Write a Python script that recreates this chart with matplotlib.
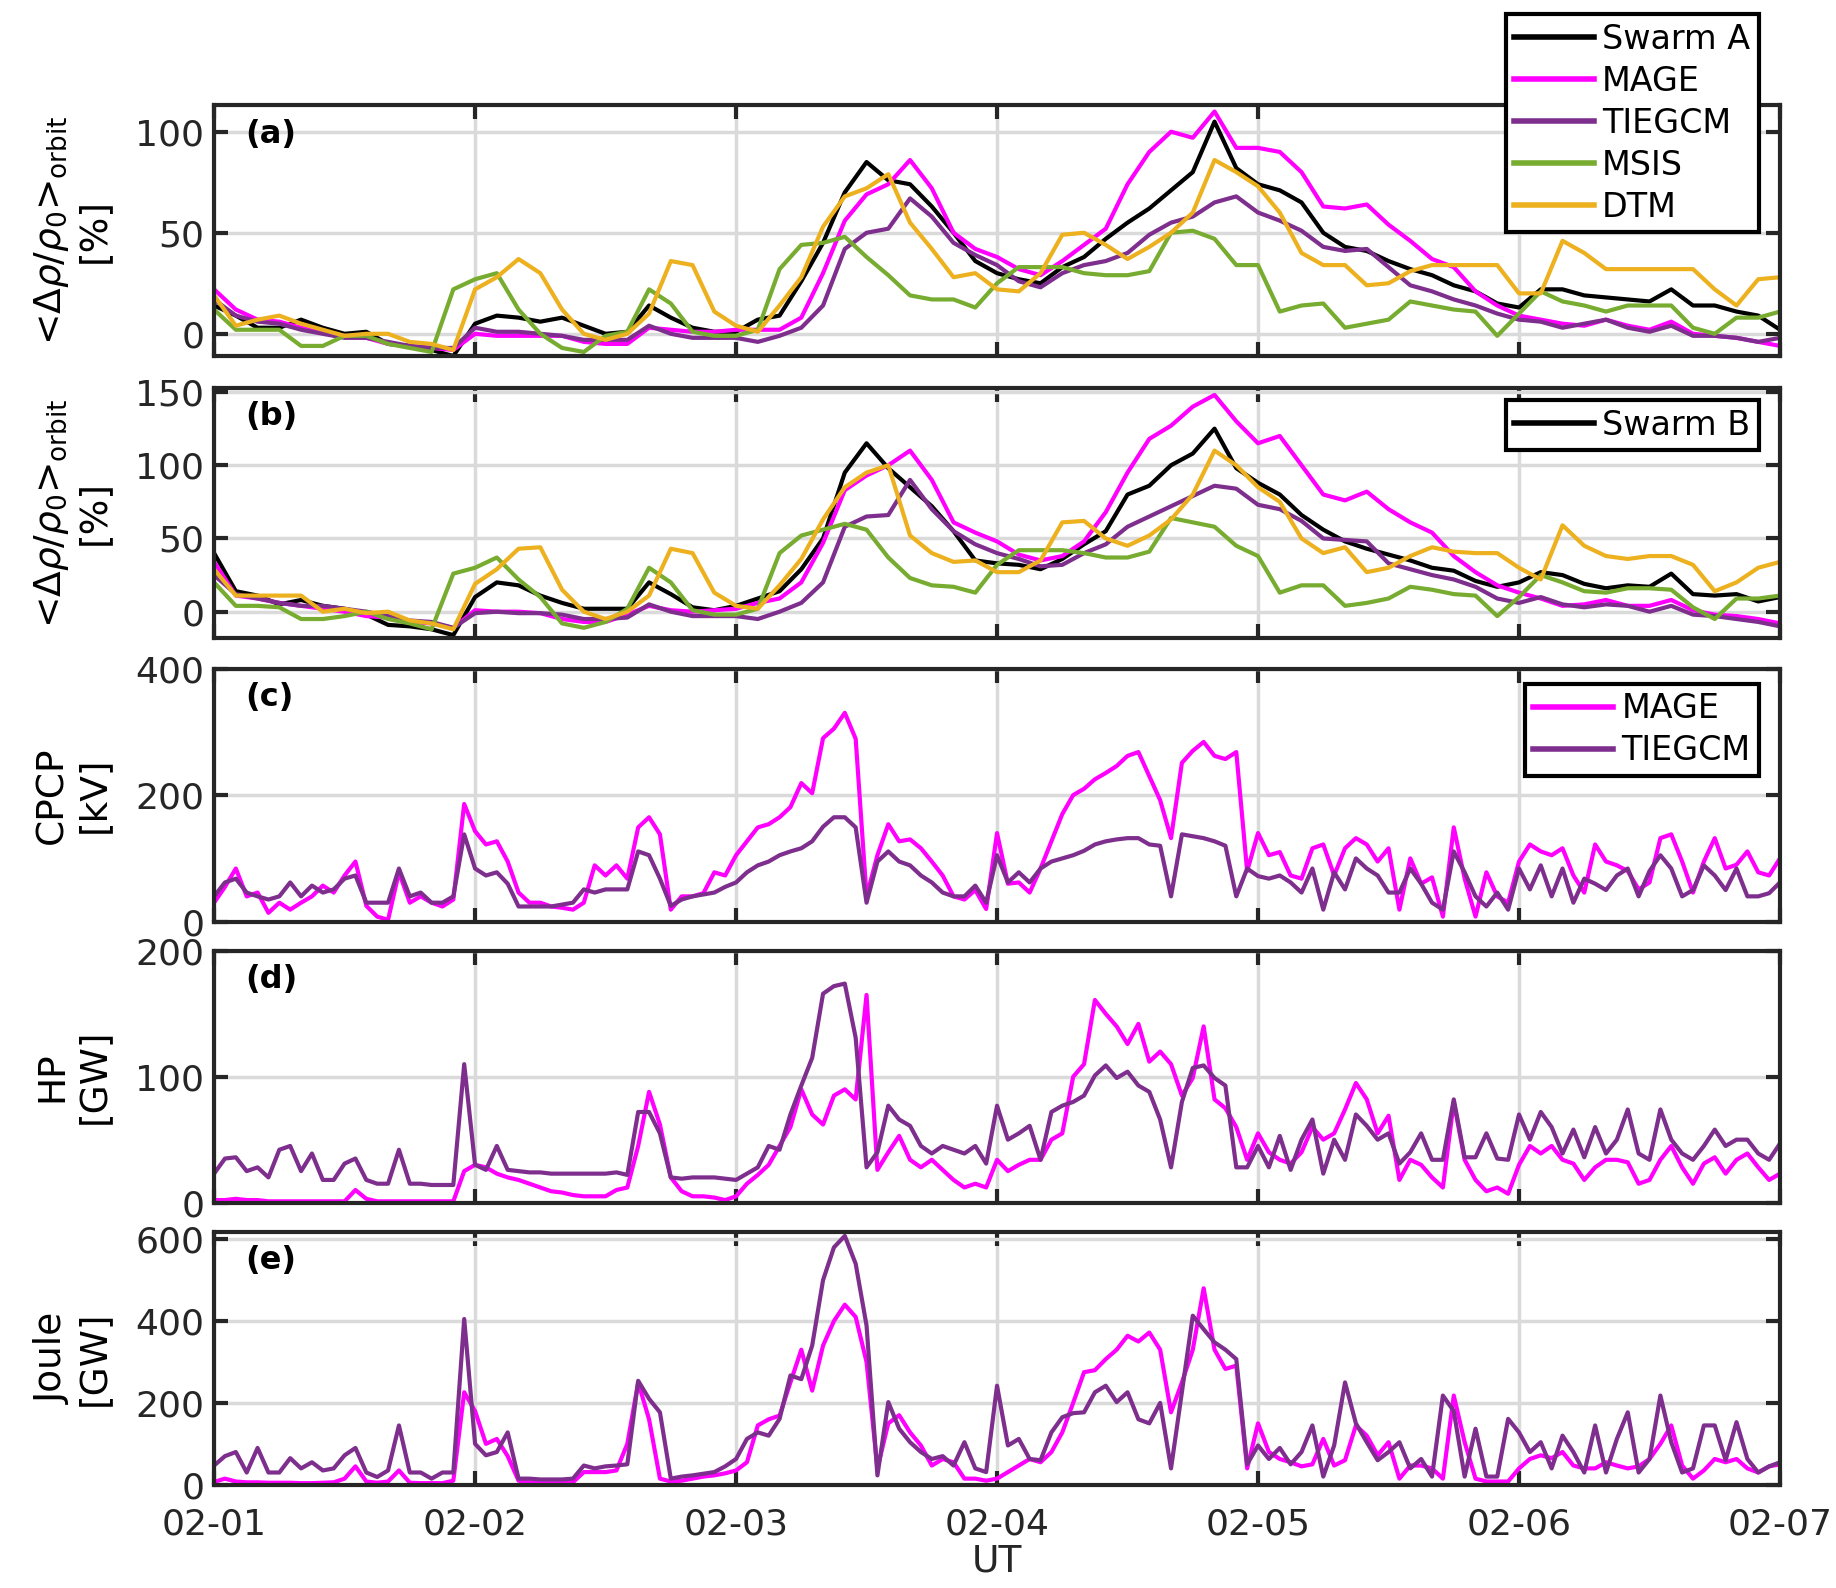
import numpy as np
import matplotlib
matplotlib.use("Agg")
import matplotlib.pyplot as plt

plt.rcParams['font.family'] = 'DejaVu Sans'
plt.rcParams['mathtext.fontset'] = 'dejavusans'

day_labels = ['02-01', '02-02', '02-03', '02-04', '02-05', '02-06', '02-07']

# orbit-averaged density change [%], sampled every 2 h from 02-01 00 UT
hours_orbit = np.arange(0, 145, 2)

swarm_a = [14, 9, 3, 3, 7, 3, 0, 1, -5, -6, -8, -11, 5, 9, 8, 6, 8, 4, 0, 1,
           14, 8, 3, 1, 1, 7, 9, 26, 45, 70, 85, 76, 74, 63, 50, 36, 30,
           27, 25, 33, 38, 47, 55, 62, 71, 80, 105, 82, 74, 71, 65, 50, 43, 41, 36,
           32, 29, 24, 21, 15, 13, 22, 22, 19, 18, 17, 16, 22, 14, 14, 11, 9, 2]
mage_a = [22, 12, 7, 6, 3, 1, -1, -2, -5, -6, -7, -8, 0, -1, -1, -1, -1, -4, -5, -5,
          3, 2, 1, 1, 2, 2, 2, 8, 30, 56, 69, 74, 86, 72, 50, 42, 38,
          32, 29, 36, 44, 52, 74, 90, 100, 97, 110, 92, 92, 90, 80, 63, 62, 64, 54,
          46, 37, 33, 21, 14, 9, 7, 5, 4, 7, 4, 2, 6, 0, -1, -2, -4, -6]
tiegcm_a = [17, 9, 6, 5, 2, 0, -2, -2, -4, -6, -7, -7, 3, 1, 1, 0, -1, -3, -3, -3,
            4, 0, -2, -2, -2, -4, -1, 3, 14, 42, 50, 52, 67, 58, 45, 39, 34,
            26, 23, 30, 34, 36, 40, 49, 55, 58, 65, 68, 60, 56, 51, 43, 41, 42, 33,
            24, 21, 17, 14, 10, 7, 6, 3, 5, 7, 3, 1, 4, -1, -1, -2, -4, -2]
msis_a = [12, 2, 2, 2, -6, -6, -1, -1, -5, -7, -9, 22, 27, 30, 12, 0, -7, -9, -1, 1,
          22, 15, 1, -1, -1, 2, 32, 44, 45, 48, 38, 29, 19, 17, 17, 13, 25,
          33, 33, 33, 30, 29, 29, 31, 50, 51, 47, 34, 34, 11, 14, 15, 3, 5, 7,
          16, 14, 12, 11, -1, 10, 21, 16, 14, 11, 14, 14, 14, 3, 0, 8, 8, 11]
dtm_a = [19, 4, 7, 9, 5, 2, -1, 0, 0, -4, -5, -8, 22, 28, 37, 30, 12, 0, -3, 0,
         10, 36, 34, 11, 4, 1, 14, 28, 53, 68, 72, 79, 55, 42, 28, 30, 22,
         21, 30, 49, 50, 44, 37, 43, 50, 60, 86, 80, 73, 60, 40, 34, 34, 24, 25,
         31, 34, 34, 34, 34, 20, 20, 46, 40, 32, 32, 32, 32, 32, 22, 14, 27, 28]

swarm_b = [40, 14, 11, 5, 8, 4, 2, -2, -9, -10, -12, -16, 10, 20, 18, 11, 6, 2, 2, 2,
           20, 12, 3, 1, 4, 9, 14, 29, 50, 95, 115, 98, 85, 72, 55, 35, 33,
           32, 29, 36, 46, 55, 80, 86, 100, 108, 125, 98, 88, 80, 66, 56, 48, 43, 39,
           35, 30, 28, 21, 17, 20, 27, 25, 19, 16, 18, 17, 26, 12, 11, 12, 7, 10]
mage_b = [34, 11, 9, 6, 4, 2, 0, -3, -4, -7, -8, -11, 1, 0, 0, -1, -5, -7, -7, -2,
          4, 1, 0, 1, 2, 6, 9, 20, 47, 83, 93, 100, 110, 90, 61, 54, 48,
          39, 35, 38, 48, 68, 95, 118, 127, 140, 148, 130, 115, 120, 100, 80, 76, 82, 70,
          61, 54, 38, 27, 18, 13, 9, 4, 5, 8, 4, 4, 8, 1, -2, -3, -5, -8]
tiegcm_b = [25, 12, 9, 6, 4, 4, 2, 0, -3, -6, -7, -11, -1, 0, -1, -1, -2, -5, -5, -4,
            5, 0, -3, -3, -3, -5, 0, 6, 20, 58, 65, 66, 90, 70, 55, 46, 40,
            36, 31, 32, 40, 46, 58, 65, 72, 79, 86, 84, 73, 70, 62, 50, 49, 48, 33,
            29, 25, 22, 17, 9, 6, 10, 5, 3, 5, 4, 0, 4, -2, -3, -5, -7, -10]
msis_b = [20, 4, 4, 3, -5, -5, -3, 0, -5, -8, -12, 26, 30, 37, 22, 10, -8, -11, -7, 2,
          30, 20, 1, -2, -2, 2, 40, 52, 56, 60, 56, 37, 23, 18, 17, 13, 32,
          42, 42, 42, 40, 37, 37, 41, 64, 61, 58, 45, 38, 13, 18, 18, 4, 6, 9,
          17, 15, 12, 11, -3, 10, 25, 20, 14, 13, 16, 16, 15, 3, -5, 9, 9, 11]
dtm_b = [29, 11, 11, 11, 11, 0, 2, -1, 0, -6, -8, -12, 19, 29, 43, 44, 15, 0, -5, 0,
         11, 43, 40, 13, 4, 2, 18, 36, 63, 85, 95, 100, 52, 40, 34, 35, 27,
         27, 35, 61, 62, 50, 45, 52, 63, 80, 110, 100, 85, 75, 50, 40, 44, 27, 30,
         38, 44, 41, 40, 40, 30, 22, 59, 45, 38, 36, 38, 38, 32, 14, 20, 30, 34]

# hourly polar cap potential [kV], hemispheric power [GW], Joule heating [GW]
hours_ie = np.arange(0, 145)

mage_cpcp = [30, 55, 84, 40, 46, 14, 30, 19, 30, 40, 57, 46, 73, 95, 25, 8, 3, 78, 30, 40,
             30, 24, 35, 186, 143, 122, 127, 95, 46, 30, 30, 24, 22, 19, 30, 89, 73, 89, 68, 149,
             165, 138, 19, 40, 40, 45, 78, 73, 105, 127, 149, 154, 165, 181, 219, 203, 290, 305, 330, 289,
             40, 105, 154, 127, 130, 116, 95, 73, 40, 35, 50, 20, 140,
             60, 62, 46, 84, 127, 170, 200, 210, 225, 235, 246, 262, 268, 230, 192, 132, 251, 270, 284, 262,
             257, 268, 80, 140, 105, 110, 73, 68, 116, 122, 73, 116, 132, 122, 95, 116, 19, 100, 60, 70,
             8, 149, 68, 8, 78, 40, 30, 95, 122, 111, 105, 116, 73, 46, 122, 95, 89, 80, 51, 62,
             132, 138, 95, 46, 95, 132, 84, 90, 111, 78, 73, 100]
tiegcm_cpcp = [40, 62, 68, 46, 40, 35, 40, 62, 40, 57, 46, 51, 68, 73, 30, 30, 30, 84, 40, 46,
               30, 30, 40, 138, 84, 73, 78, 60, 24, 24, 24, 24, 27, 30, 51, 46, 51, 51, 51, 111,
               105, 68, 25, 35, 40, 43, 46, 55, 62, 78, 89, 95, 105, 111, 116, 127, 150, 165, 165, 149,
               30, 95, 111, 95, 89, 73, 62, 46, 40, 40, 57, 30, 105,
               62, 78, 62, 84, 95, 100, 105, 112, 122, 127, 130, 132, 132, 122, 120, 40, 138, 135, 132, 127,
               120, 40, 84, 72, 68, 73, 62, 46, 84, 19, 78, 51, 100, 84, 73, 46, 46, 84, 60, 30,
               19, 111, 78, 40, 24, 46, 19, 84, 51, 89, 40, 84, 30, 68, 60, 50, 73, 84, 40, 80,
               105, 84, 40, 50, 89, 73, 50, 84, 40, 40, 45, 62]

mage_hp = [2, 2, 3, 2, 2, 1, 1, 1, 1, 1, 1, 1, 1, 10, 3, 1, 1, 1, 1, 1,
           1, 1, 1, 25, 30, 28, 23, 20, 18, 15, 12, 9, 8, 6, 5, 5, 5, 10, 12, 45,
           88, 62, 20, 9, 5, 5, 4, 2, 5, 15, 22, 30, 45, 60, 90, 70, 62, 85, 90, 82,
           165, 26, 40, 53, 34, 28, 34, 26, 18, 12, 15, 12, 34,
           25, 30, 34, 34, 50, 55, 100, 110, 161, 150, 140, 126, 142, 112, 120, 110, 85, 99, 140, 82,
           75, 60, 34, 55, 40, 34, 31, 40, 60, 50, 55, 74, 95, 82, 55, 69, 18, 34, 30, 20,
           12, 80, 34, 18, 9, 12, 7, 30, 45, 39, 45, 34, 31, 18, 28, 34, 34, 32, 15, 18,
           34, 45, 28, 15, 31, 36, 23, 34, 39, 28, 18, 23]
tiegcm_hp = [23, 35, 36, 25, 28, 20, 42, 45, 25, 39, 18, 18, 31, 35, 18, 15, 15, 42, 15, 15,
             14, 14, 14, 110, 30, 26, 45, 26, 25, 24, 24, 23, 23, 23, 23, 23, 23, 24, 22, 72,
             72, 55, 20, 19, 20, 20, 20, 19, 18, 23, 28, 45, 42, 70, 93, 115, 166, 172, 174, 131,
             28, 40, 77, 66, 61, 45, 39, 45, 42, 39, 45, 31, 77,
             50, 55, 61, 34, 72, 77, 80, 85, 101, 109, 99, 104, 93, 88, 66, 28, 80, 107, 109, 99,
             93, 28, 28, 45, 28, 53, 26, 50, 66, 23, 50, 34, 70, 61, 50, 55, 31, 40, 55, 34,
             34, 82, 36, 36, 55, 35, 34, 70, 50, 72, 60, 39, 58, 36, 60, 39, 50, 74, 39, 34,
             74, 50, 39, 34, 45, 58, 45, 50, 50, 39, 34, 47]

mage_joule = [7, 15, 8, 6, 6, 5, 5, 5, 4, 4, 5, 6, 15, 45, 8, 5, 8, 35, 5, 4,
              4, 4, 10, 226, 180, 100, 112, 70, 10, 6, 6, 6, 6, 6, 31, 31, 31, 35, 100, 250,
              160, 15, 8, 10, 15, 20, 23, 28, 35, 55, 145, 160, 169, 250, 330, 230, 340, 400, 440, 410,
              300, 40, 150, 170, 128, 96, 47, 63, 55, 15, 15, 10, 15,
              31, 47, 63, 55, 80, 128, 200, 275, 280, 307, 330, 364, 350, 372, 330, 177, 250, 330, 480, 330,
              283, 291, 40, 150, 80, 63, 55, 45, 50, 112, 47, 60, 145, 120, 72, 104, 15, 47, 47, 40,
              15, 218, 104, 15, 8, 8, 8, 40, 63, 72, 65, 80, 47, 40, 40, 55, 47, 40, 45, 63,
              100, 145, 47, 15, 35, 63, 55, 63, 40, 30, 45, 50]
tiegcm_joule = [47, 70, 80, 30, 90, 30, 30, 65, 40, 55, 35, 40, 72, 90, 30, 19, 35, 145, 30, 30,
                15, 30, 30, 405, 100, 72, 80, 128, 15, 15, 13, 13, 13, 15, 47, 40, 45, 47, 50, 254,
                210, 177, 15, 20, 23, 27, 31, 45, 63, 112, 128, 120, 161, 267, 258, 340, 500, 580, 608, 540,
                389, 23, 202, 137, 104, 80, 63, 70, 47, 104, 40, 31, 242,
                96, 112, 63, 60, 128, 165, 175, 177, 226, 242, 202, 226, 160, 150, 200, 40, 226, 413, 380, 348,
                330, 307, 50, 96, 63, 90, 50, 80, 145, 20, 96, 250, 150, 104, 60, 80, 104, 40, 63, 20,
                218, 180, 20, 137, 20, 20, 161, 128, 80, 104, 40, 120, 80, 30, 145, 30, 112, 177, 30, 63,
                218, 104, 30, 40, 145, 145, 60, 153, 63, 30, 45, 55]

c_swarm = 'black'
c_mage = '#ff00ff'
c_tiegcm = '#7e2f8e'
c_msis = '#77ac30'
c_dtm = '#edb120'
edge = '#262626'
lw = 3.0

fig = plt.figure(figsize=(18.36, 15.88), dpi=100)

left, width = 0.1166, 0.8529
panel_boxes = [(0.7758, 0.1578), (0.5982, 0.1577), (0.4196, 0.1594),
               (0.2427, 0.1585), (0.0650, 0.1593)]
axes = [fig.add_axes([left, b, width, h]) for b, h in panel_boxes]


def style_axes(ax, ylim, yticks, letter):
    ax.set_xlim(0, 6)
    ax.set_ylim(*ylim)
    ax.set_xticks(range(7))
    ax.set_yticks(yticks)
    ax.grid(True, color='#dadada', linewidth=2.5)
    ax.set_axisbelow(True)
    for s in ax.spines.values():
        s.set_linewidth(3)
        s.set_color(edge)
    ax.tick_params(direction='in', length=10, width=3, top=True, right=True,
                   labelsize=26, color=edge, labelcolor=edge, pad=7)
    ax.tick_params(axis='x', pad=16)
    ax.set_xticklabels([])
    ax.text(0.02, 0.885, letter, transform=ax.transAxes, fontsize=23,
            fontweight='bold', va='center', ha='left')
    ax.yaxis.set_label_coords(-0.065, 0.5)


def legend_box(ax, handles, labels, x, y):
    leg = ax.legend(handles, labels, loc='upper left', bbox_to_anchor=(x, y),
                    bbox_transform=fig.transFigure, fontsize=24, fancybox=False,
                    edgecolor='black', framealpha=1, borderpad=0.25,
                    handlelength=2.4, handletextpad=0.25, labelspacing=0.27,
                    borderaxespad=0)
    leg.get_frame().set_linewidth(3)
    for line in leg.get_lines():
        line.set_linewidth(4)
    return leg


t_orbit = hours_orbit / 24
t_ie = hours_ie / 24
rho_label = r'<$\Delta\rho/\rho_0$>$_{\rm orbit}$' + '\n[%]'
label_size = 27

# (a) Swarm A
ax = axes[0]
la = [ax.plot(t_orbit, swarm_a, color=c_swarm, lw=lw)[0],
      ax.plot(t_orbit, mage_a, color=c_mage, lw=lw)[0],
      ax.plot(t_orbit, tiegcm_a, color=c_tiegcm, lw=lw)[0],
      ax.plot(t_orbit, msis_a, color=c_msis, lw=lw)[0],
      ax.plot(t_orbit, dtm_a, color=c_dtm, lw=lw)[0]]
style_axes(ax, (-11, 113), [0, 50, 100], '(a)')
ax.set_ylabel(rho_label, fontsize=label_size)
legend_box(ax, la, ['Swarm A', 'MAGE', 'TIEGCM', 'MSIS', 'DTM'], 0.820, 0.991)

# (b) Swarm B
ax = axes[1]
lb = ax.plot(t_orbit, swarm_b, color=c_swarm, lw=lw)[0]
ax.plot(t_orbit, mage_b, color=c_mage, lw=lw)
ax.plot(t_orbit, tiegcm_b, color=c_tiegcm, lw=lw)
ax.plot(t_orbit, msis_b, color=c_msis, lw=lw)
ax.plot(t_orbit, dtm_b, color=c_dtm, lw=lw)
style_axes(ax, (-18, 153), [0, 50, 100, 150], '(b)')
ax.set_ylabel(rho_label, fontsize=label_size)
legend_box(ax, [lb], ['Swarm B'], 0.820, 0.7478)

# (c) CPCP
ax = axes[2]
lc = [ax.plot(t_ie, mage_cpcp, color=c_mage, lw=lw)[0],
      ax.plot(t_ie, tiegcm_cpcp, color=c_tiegcm, lw=lw)[0]]
style_axes(ax, (0, 400), [0, 200, 400], '(c)')
ax.set_ylabel('CPCP\n[kV]', fontsize=label_size)
legend_box(ax, lc, ['MAGE', 'TIEGCM'], 0.8305, 0.5693)

# (d) hemispheric power
ax = axes[3]
ax.plot(t_ie, mage_hp, color=c_mage, lw=lw)
ax.plot(t_ie, tiegcm_hp, color=c_tiegcm, lw=lw)
style_axes(ax, (0, 200), [0, 100, 200], '(d)')
ax.set_ylabel('HP\n[GW]', fontsize=label_size)

# (e) Joule heating
ax = axes[4]
ax.plot(t_ie, mage_joule, color=c_mage, lw=lw)
ax.plot(t_ie, tiegcm_joule, color=c_tiegcm, lw=lw)
style_axes(ax, (0, 618), [0, 200, 400, 600], '(e)')
ax.set_ylabel('Joule\n[GW]', fontsize=label_size)
ax.set_xticklabels(day_labels)
ax.set_xlabel('UT', fontsize=label_size, color=edge, labelpad=2)

fig.savefig('out.png', dpi=100)
